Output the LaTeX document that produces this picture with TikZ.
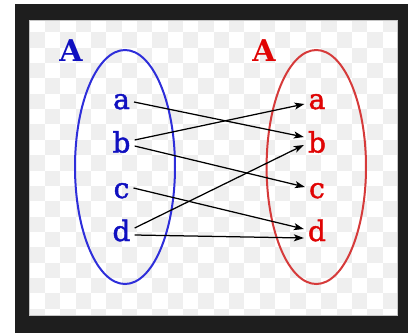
\documentclass[tikz,border=0pt]{standalone}
\usepackage{fontspec}
\usepackage{tikz}
\usetikzlibrary{arrows.meta}
\newfontfamily\setfont{DejaVu Serif}
\newfontfamily\elemfont[FakeBold=1.6]{DejaVu Serif}
\definecolor{frm}{HTML}{1E1E1E}
\definecolor{chk}{HTML}{EFEFEF}
\definecolor{bl}{HTML}{2E2EDA}
\definecolor{bltxt}{HTML}{1010C0}
\definecolor{rd}{HTML}{D63A3A}
\definecolor{rdtxt}{HTML}{E00404}

\begin{document}
\begin{tikzpicture}[x=1pt, y=-1pt,
  elem/.style={font=\elemfont\fontsize{28}{30}\selectfont, anchor=base, text height=0pt, text depth=0pt, inner ysep=0pt, inner xsep=4pt},
  setname/.style={font=\setfont\bfseries\fontsize{30}{32}\selectfont, anchor=base},
  arr/.style={-{Stealth[length=10pt,width=7pt,inset=2.5pt]}, line width=1.25pt}]
\useasboundingbox (0,0) rectangle (408,333);

% Frame and checkered ground
\fill[white] (0,0) rectangle (408,333);
\fill[frm] (15,4) rectangle (408,333);
\fill[white] (29,20) rectangle (397,315);
\begin{scope}
\clip (29,20) rectangle (397,315);
\foreach \i in {0,...,24}
  \foreach \j in {0,...,19}{
    \pgfmathtruncatemacro\cellsum{\i+\j}
    \ifodd\cellsum \fill[chk] ({29.5+\i*15.35},{17+\j*15.35}) rectangle +(15.35,15.35); \fi
  }
\end{scope}
\draw[gray!45, line width=0.6pt] (29,20) rectangle (397,315);

% The two sets
\draw[bl, line width=2pt] (125,167) ellipse (50 and 117);
\draw[rd, line width=2pt] (316.3,167) ellipse (49.7 and 117);
\node[setname, bltxt] (domA) at (71,61) {A};
\node[setname, rdtxt] (codA) at (264,61) {A};

% Elements
\node[elem, bltxt] (la) at (121.5,109) {a};
\node[elem, bltxt] (lb) at (121.5,152.5) {b};
\node[elem, bltxt] (lc) at (121.5,198) {c};
\node[elem, bltxt] (ld) at (121.5,241) {d};
\node[elem, rdtxt] (ra) at (317,109) {a};
\node[elem, rdtxt] (rb) at (317,152.5) {b};
\node[elem, rdtxt] (rc) at (317,198) {c};
\node[elem, rdtxt] (rd) at (317,241) {d};

% Mapping
\draw[arr] ([yshift=7pt]la.east) -- ([yshift=15.5pt]rb.west);
\draw[arr] ([yshift=12.5pt]lb.east) -- ([yshift=5pt]ra.west);
\draw[arr] ([yshift=6.5pt]lb.east) -- ([yshift=11pt]rc.west);
\draw[arr] ([yshift=10pt]lc.east) -- ([yshift=12pt]rd.west);
\draw[arr] ([yshift=13pt]ld.east) -- ([yshift=7.5pt]rb.west);
\draw[arr] ([yshift=6pt]ld.east) -- ([yshift=3pt]rd.west);
\end{tikzpicture}
\end{document}
